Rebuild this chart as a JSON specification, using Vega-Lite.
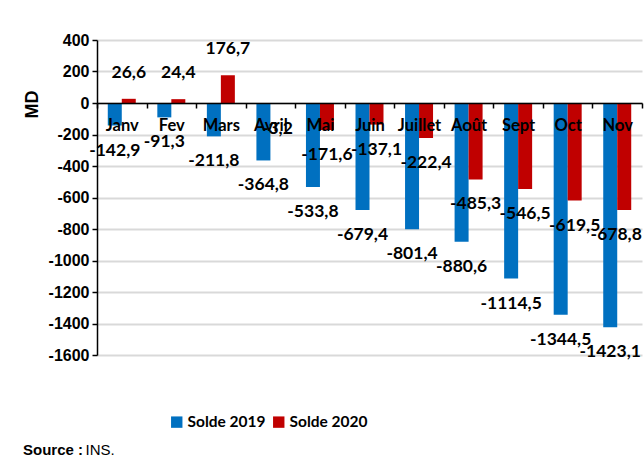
{
  "$schema": "https://vega.github.io/schema/vega-lite/v6.json",
  "width": 545,
  "height": 315,
  "autosize": "none",
  "padding": {"left": 97, "top": 40, "right": 2, "bottom": 102},
  "background": "white",
  "config": {
    "locale": {"number": {"decimal": ",", "thousands": "", "grouping": [3], "currency": ["", ""], "minus": "-"}},
    "view": {"stroke": null}
  },
  "data": {
    "values": [
      {"mois": "Janv", "serie": "Solde 2019", "value": -142.9},
      {"mois": "Fev", "serie": "Solde 2019", "value": -91.3},
      {"mois": "Mars", "serie": "Solde 2019", "value": -211.8},
      {"mois": "Avril", "serie": "Solde 2019", "value": -364.8},
      {"mois": "Mai", "serie": "Solde 2019", "value": -533.8},
      {"mois": "Juin", "serie": "Solde 2019", "value": -679.4},
      {"mois": "Juillet", "serie": "Solde 2019", "value": -801.4},
      {"mois": "Août", "serie": "Solde 2019", "value": -880.6},
      {"mois": "Sept", "serie": "Solde 2019", "value": -1114.5},
      {"mois": "Oct", "serie": "Solde 2019", "value": -1344.5},
      {"mois": "Nov", "serie": "Solde 2019", "value": -1423.1},
      {"mois": "Janv", "serie": "Solde 2020", "value": 26.6},
      {"mois": "Fev", "serie": "Solde 2020", "value": 24.4},
      {"mois": "Mars", "serie": "Solde 2020", "value": 176.7},
      {"mois": "Avril", "serie": "Solde 2020", "value": -3.2},
      {"mois": "Mai", "serie": "Solde 2020", "value": -171.6},
      {"mois": "Juin", "serie": "Solde 2020", "value": -137.1},
      {"mois": "Juillet", "serie": "Solde 2020", "value": -222.4},
      {"mois": "Août", "serie": "Solde 2020", "value": -485.3},
      {"mois": "Sept", "serie": "Solde 2020", "value": -546.5},
      {"mois": "Oct", "serie": "Solde 2020", "value": -619.5},
      {"mois": "Nov", "serie": "Solde 2020", "value": -678.8}
    ]
  },
  "title": {
    "text": "Source :",
    "subtitle": "\u200b\u00a0\u00a0\u00a0\u00a0\u00a0\u00a0\u00a0\u00a0\u00a0\u00a0\u00a0\u00a0\u00a0\u00a0\u00a0INS.",
    "orient": "bottom",
    "anchor": "start",
    "frame": "group",
    "dx": -74,
    "offset": 12,
    "font": "Liberation Sans",
    "fontSize": 15,
    "fontWeight": "bold",
    "color": "black",
    "subtitleFont": "Liberation Sans",
    "subtitleFontSize": 15,
    "subtitleFontWeight": "normal",
    "subtitleColor": "black",
    "subtitlePadding": -15
  },
  "encoding": {
    "x": {
      "field": "mois",
      "type": "nominal",
      "sort": ["Janv", "Fev", "Mars", "Avril", "Mai", "Juin", "Juillet", "Août", "Sept", "Oct", "Nov"],
      "scale": {"paddingInner": 0, "paddingOuter": 0},
      "axis": {
        "title": null,
        "offset": -252,
        "zindex": 1,
        "labelAngle": 0,
        "labelFont": "Lato",
        "labelFontSize": 16.5,
        "labelFontWeight": "bold",
        "labelColor": "black",
        "labelPadding": 9,
        "tickBand": "extent",
        "tickSize": 5,
        "tickColor": "black",
        "tickWidth": 1.5,
        "domainColor": "black",
        "domainWidth": 1.5
      }
    },
    "xOffset": {
      "field": "serie",
      "type": "nominal",
      "scale": {"paddingInner": 0, "paddingOuter": 0.77}
    },
    "y": {
      "field": "value",
      "type": "quantitative",
      "scale": {"domain": [-1600, 400], "nice": false},
      "axis": {
        "title": "MD",
        "titleFont": "Liberation Sans",
        "titleFontSize": 18,
        "titleFontWeight": "bold",
        "titleColor": "black",
        "titleX": -65,
        "titleY": 64,
        "titleAngle": -90,
        "titleAlign": "center",
        "titleBaseline": "middle",
        "values": [-1600, -1400, -1200, -1000, -800, -600, -400, -200, 0, 200, 400],
        "format": "d",
        "labelFont": "Liberation Sans",
        "labelFontSize": 16,
        "labelFontWeight": "bold",
        "labelColor": "black",
        "labelPadding": 3,
        "tickSize": 5,
        "tickColor": "black",
        "tickWidth": 1.5,
        "domainColor": "black",
        "domainWidth": 1.5,
        "gridColor": "#d9d9d9",
        "gridWidth": 2
      }
    }
  },
  "layer": [
    {
      "mark": {"type": "bar"},
      "encoding": {
        "color": {
          "field": "serie",
          "type": "nominal",
          "scale": {"domain": ["Solde 2019", "Solde 2020"], "range": ["#0070C0", "#C00000"]},
          "legend": {
            "title": null,
            "orient": "none",
            "direction": "horizontal",
            "legendX": 72,
            "legendY": 374,
            "symbolType": "square",
            "symbolSize": 130,
            "symbolStrokeWidth": 0,
            "symbolOpacity": 1,
            "labelFont": "Lato",
            "labelFontSize": 15.5,
            "labelFontWeight": "bold",
            "labelColor": "black",
            "columnPadding": 5,
            "labelOffset": 3
          }
        }
      }
    },
    {
      "transform": [{"filter": "datum.value < 0 && !(datum.mois == 'Nov' && datum.serie == 'Solde 2020')"}],
      "mark": {"type": "text", "dy": 25, "font": "Lato", "fontSize": 17.5, "fontWeight": "bold", "color": "black"},
      "encoding": {
        "text": {"field": "value", "type": "quantitative", "format": ".1f"}
      }
    },
    {
      "transform": [{"filter": "datum.mois == 'Nov' && datum.serie == 'Solde 2020'"}],
      "mark": {"type": "text", "dy": 25, "dx": -8, "font": "Lato", "fontSize": 17.5, "fontWeight": "bold", "color": "black"},
      "encoding": {
        "text": {"field": "value", "type": "quantitative", "format": ".1f"}
      }
    },
    {
      "transform": [{"filter": "datum.value >= 0"}],
      "mark": {"type": "text", "dy": -26, "font": "Lato", "fontSize": 17.5, "fontWeight": "bold", "color": "black"},
      "encoding": {
        "text": {"field": "value", "type": "quantitative", "format": ".1f"}
      }
    }
  ]
}
